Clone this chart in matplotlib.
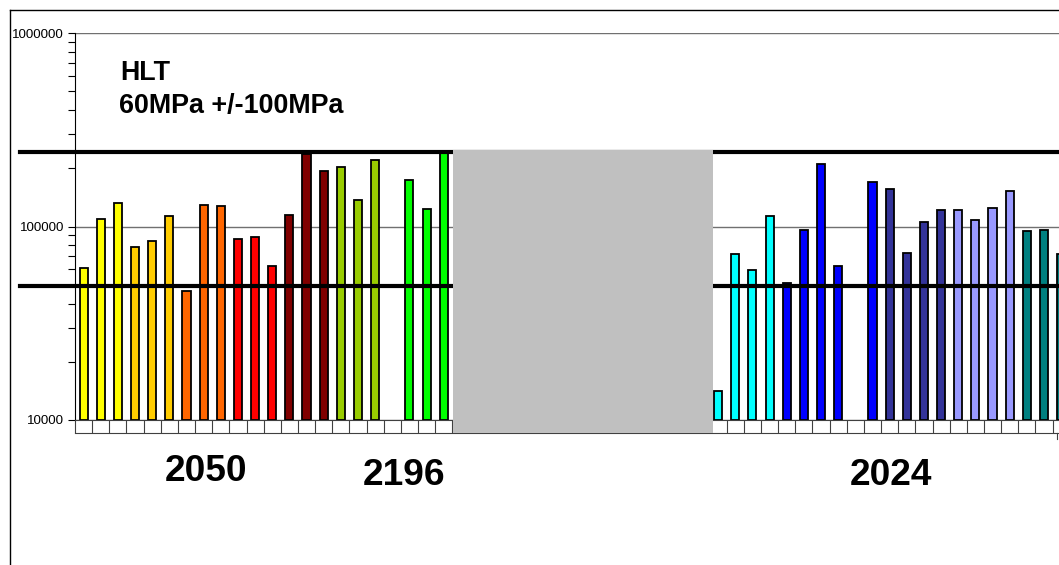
import numpy as np
import matplotlib
matplotlib.use("Agg")
import matplotlib.pyplot as plt
from matplotlib.patches import Rectangle
from matplotlib.lines import Line2D
from matplotlib.ticker import LogLocator, FixedLocator, NullFormatter, FuncFormatter

plt.rcParams['font.family'] = ['Liberation Sans', 'DejaVu Sans']

# cycles to failure, left block starts at category 0
left_values = [61200, 109000, 132000, 78700, 84500, 113000, 46600, 129000, 128000,
               86500, 88500, 62500, 114000, 238000, 194000, 204000, 137000, 221000,
               None, 173000, 123000, 239000]
left_colors = ['#FFFF00'] * 3 + ['#FFCC00'] * 3 + ['#FF6600'] * 3 + ['#FF0000'] * 3 + \
              ['#800000'] * 3 + ['#99CC00'] * 3 + [None] + ['#00FF00'] * 3

# right block starts at category 37 (22..36 hidden under the grey box)
right_start = 37
right_values = [14200, 71800, 59800, 113000, 50900, 95900, 210000, 62800, None,
                170000, 156000, 72700, 105000, 122000, 122000, 108000, 124000, 153000,
                95100, 96200, 72100]
right_colors = ['#00FFFF'] * 4 + ['#0000FF'] * 4 + [None] + ['#0000FF'] + \
               ['#333399'] * 4 + ['#9999FF'] * 4 + ['#008080'] * 3

limits = [49000, 242000]
group_labels = ['2050', '2196', '2024']

W, H = 1059, 565
fig = plt.figure(figsize=(W / 100, H / 100), dpi=100)
ax = fig.add_axes([75 / W, (H - 420) / H, (W - 75) / W, (420 - 33) / H])

xs = []
vals = []
cols = []
for i, (v, c) in enumerate(zip(left_values, left_colors)):
    if v is not None:
        xs.append(i); vals.append(v); cols.append(c)
for i, (v, c) in enumerate(zip(right_values, right_colors)):
    if v is not None:
        xs.append(right_start + i); vals.append(v); cols.append(c)

vals = np.array(vals, dtype=float)
ax.bar(xs, vals - 1e4, bottom=1e4, width=0.47, color=cols,
       edgecolor='black', linewidth=1.3, zorder=3)

ax.set_yscale('log')

ax.yaxis.set_major_locator(FixedLocator([1e4, 1e5, 1e6]))
ax.yaxis.set_major_formatter(FuncFormatter(lambda v, p: '%d' % round(v)))
ax.yaxis.set_minor_locator(LogLocator(base=10, subs=np.arange(2, 10)))
ax.yaxis.set_minor_formatter(NullFormatter())
ax.tick_params(axis='y', which='both', direction='out', length=5, width=0.8,
               labelsize=9.6, pad=3, colors='black')

ax.set_xticks(np.arange(-0.5, 60, 1))
ax.set_xticklabels([])
ax.tick_params(axis='x', direction='out', length=9.4, width=0.8, color='#404040')

ax.set_ylim(1e4, 1e6)
ax.set_xlim(-0.5, -0.5 + (W - 75) / 17.15)

for s in ['top', 'right']:
    ax.spines[s].set_visible(False)
ax.spines['left'].set_linewidth(0.8)
ax.spines['bottom'].set_linewidth(0.8)
ax.spines['bottom'].set_color('#404040')

ax.yaxis.grid(True, which='major', color='#707070', linewidth=1.0, zorder=1)
ax.set_axisbelow(True)

# bottom line of the category cells
ax.plot([0, 1], [-13 / 387, -13 / 387], transform=ax.transAxes, color='#404040',
        linewidth=0.8, clip_on=False)
ax.plot([(1057 - 75) / 984] * 2, [-13 / 387, -19 / 387], transform=ax.transAxes,
        color='#404040', linewidth=0.8, clip_on=False)

# limit lines
for lim in limits:
    ax.plot([(20 - 75) / 984, 1], [lim, lim], transform=ax.get_yaxis_transform(),
            color='black', linewidth=3, clip_on=False, zorder=4)

# grey box covering the middle block
fig.patches.append(Rectangle((453 / W, (H - 433) / H), (713 - 453) / W, (433 - 150) / H,
                             transform=fig.transFigure, facecolor='#C0C0C0',
                             edgecolor='none', zorder=10))

# outer frame
fig.add_artist(Line2D([9.5 / W, 9.5 / W], [0, (H - 9.5) / H], color='black', linewidth=1))
fig.add_artist(Line2D([9.5 / W, 1], [(H - 9.5) / H, (H - 9.5) / H], color='black', linewidth=1))

fig.text(120 / W, (H - 80) / H, 'HLT', fontsize=19.4, fontweight='bold', va='baseline')
fig.text(119 / W, (H - 113) / H, '60MPa +/-100MPa', fontsize=19.4, fontweight='bold',
         va='baseline')

for lab, cx, by in zip(group_labels, [206, 404, 891], [481, 485, 485]):
    fig.text(cx / W, (H - by) / H, lab, fontsize=26.7, fontweight='bold',
             ha='center', va='baseline')

fig.savefig('out.png', dpi=100)
